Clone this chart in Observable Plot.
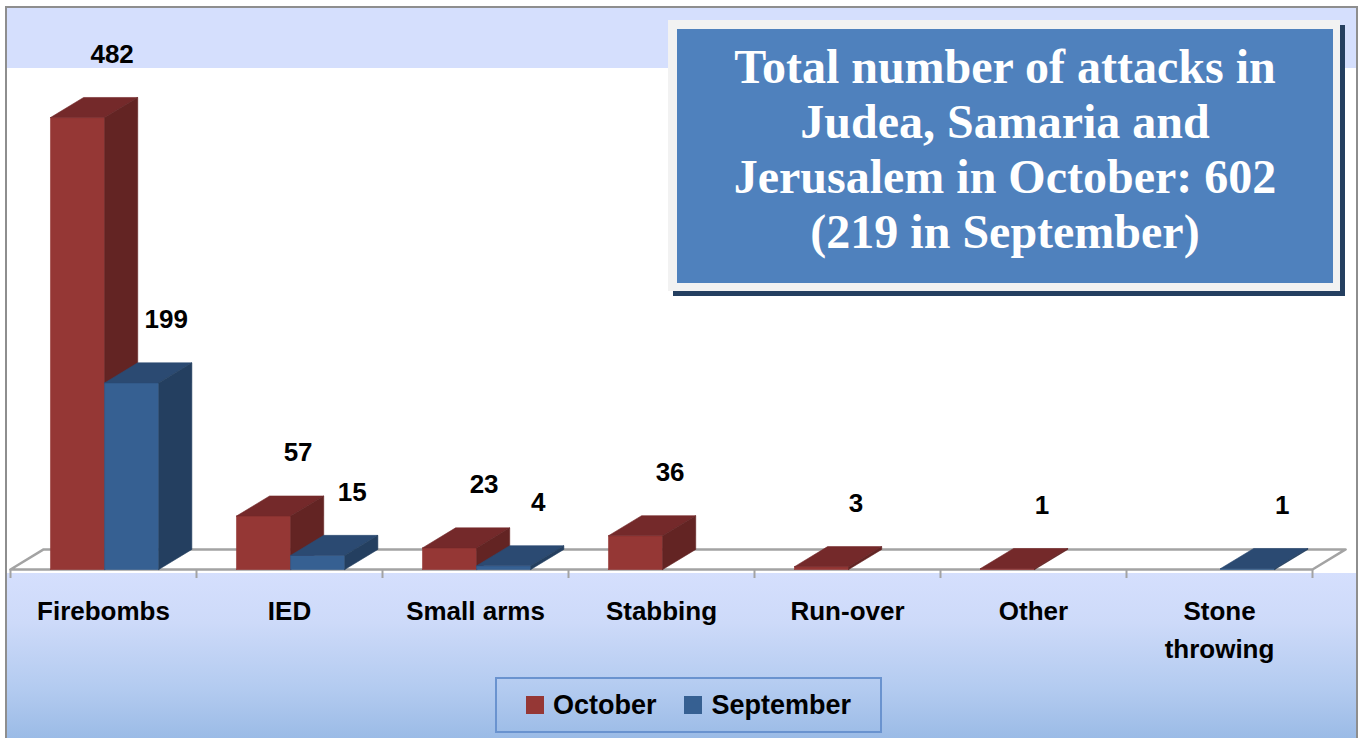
<!DOCTYPE html>
<html>
<head>
<meta charset="utf-8">
<script src="https://cdn.jsdelivr.net/npm/d3@7"></script>
<script src="https://cdn.jsdelivr.net/npm/@observablehq/plot@0.6"></script>
<style>
  html, body { margin: 0; padding: 0; background: #ffffff; }
  #wrap { position: relative; width: 1364px; height: 738px; overflow: hidden; font-family: "Liberation Sans", Arial, sans-serif; }
  #bgTop { position: absolute; left: 6px; top: 7px; width: 1352px; height: 61px; background: #d5dffd; }
  #bgBottom { position: absolute; left: 6px; top: 573px; width: 1352px; height: 165px;
    background: linear-gradient(to bottom, #d5dffd 0%, #cddaf9 30%, #b3cbf0 70%, #9bbbe6 100%); }
  #frame { position: absolute; left: 5px; top: 6px; width: 1353px; height: 740px; border: 2px solid #8e8e8e; box-sizing: border-box; }
  #chart { position: absolute; left: 0; top: 0; }
  #title { position: absolute; left: 668px; top: 20px; width: 672px; height: 271px; background: #f2f2f2;
    box-shadow: 5px 5px 0 #243f60; box-sizing: border-box; padding: 9px 7px 8px 9px; }
  #titleInner { width: 100%; height: 100%; background: #4f81bd; color: #ffffff; text-align: center;
    font-family: "Liberation Serif", "Times New Roman", serif; font-weight: bold; font-size: 48px; line-height: 55px;
    box-sizing: border-box; padding-top: 10px; }
  #legend { position: absolute; left: 495px; top: 677px; width: 387px; height: 56px; box-sizing: border-box;
    border: 2px solid #6a93cf; display: flex; align-items: center; justify-content: center; gap: 28px;
    font-weight: bold; font-size: 27px; color: #000; }
  .item { display: flex; align-items: center; gap: 9px; }
  .sw { width: 18px; height: 18px; display: inline-block; }
</style>
</head>
<body>
<div id="wrap">
  <div id="bgTop"></div>
  <div id="bgBottom"></div>
  <div id="chart"></div>
  <div id="frame"></div>
  <div id="title"><div id="titleInner">Total number of attacks in<br>Judea, Samaria and<br>Jerusalem in October: 602<br>(219 in September)</div></div>
  <div id="legend"></div>
</div>
<script>
// ---- data ----
const categories = ["Firebombs", "IED", "Small arms", "Stabbing", "Run-over", "Other", "Stone\nthrowing"];
const october   = [482, 57, 23, 36, 3, 1, 0];
const september = [199, 15, 4, 0, 0, 0, 1];
const seriesNames = ["October", "September"];

// ---- styling / geometry constants ----
const colors = {
  October:   {front: "#953735", top: "#74292a", side: "#632423"},
  September: {front: "#366092", top: "#2b4a72", side: "#243f60"}
};
const barW = 0.291;               // bar width in category units
const barOff = [0.215, 0.506];    // offset of each series inside its category
const depthX = 0.178;             // 3D depth, x (category units)
const depthY = 21.4;              // 3D depth, y (value units)

// build bar records
const bars = [];
[october, september].forEach((vals, s) => {
  vals.forEach((v, i) => {
    bars.push({series: seriesNames[s], cat: categories[i], v, x0: i + barOff[s], x1: i + barOff[s] + barW});
  });
});
const visible = bars.filter(b => b.v > 0);

function faces(kind) {
  const pts = [];
  visible.forEach((b, k) => {
    let p;
    if (kind === "front") p = [[b.x0, 0], [b.x1, 0], [b.x1, b.v], [b.x0, b.v]];
    else if (kind === "top") p = [[b.x0, b.v], [b.x1, b.v], [b.x1 + depthX, b.v + depthY], [b.x0 + depthX, b.v + depthY]];
    else p = [[b.x1, 0], [b.x1 + depthX, depthY], [b.x1 + depthX, b.v + depthY], [b.x1, b.v]];
    p.push(p[0]);
    p.forEach(([x, y]) => pts.push({id: kind + k, series: b.series, x, y}));
  });
  return pts;
}

const floor = [[0, 0], [7, 0], [7 + depthX, depthY], [depthX, depthY], [0, 0]].map(([x, y]) => ({x, y}));

const faceMarks = [];
for (const s of seriesNames) {
  for (const kind of ["front", "top", "side"]) {
    const data = faces(kind).filter(d => d.series === s);
    faceMarks.push(Plot.line(data, {x: "x", y: "y", z: "id", fill: colors[s][kind], stroke: colors[s][kind], strokeWidth: 0.6}));
  }
}

const labelFont = {fontFamily: "Liberation Sans, Arial, sans-serif", fontWeight: "bold", fontSize: 26, fill: "#000"};

const chart = Plot.plot({
  width: 1364,
  height: 738,
  marginLeft: 10,
  marginRight: 52,
  marginTop: 20,
  marginBottom: 169,
  style: {background: "transparent", overflow: "visible"},
  x: {type: "linear", domain: [0, 7], axis: null},
  y: {domain: [0, 585.5], axis: null},
  marks: [
    Plot.line(floor, {x: "x", y: "y", stroke: "#a3a3a3", strokeWidth: 2.5, fill: "#ffffff"}),
    Plot.axisX({ticks: d3.range(8), tickFormat: () => "", label: null, tickSize: 9, stroke: "#a3a3a3", strokeWidth: 2, anchor: "bottom"}),
    ...faceMarks,
    Plot.text(visible, {
      x: d => (d.x0 + d.x1) / 2 + depthX / 2,
      y: d => d.v + depthY / 2,
      text: d => String(d.v),
      dx: 18, dy: -53,
      ...labelFont
    }),
    Plot.text(categories, {
      x: (d, i) => i + 0.5,
      y: 0,
      text: d => d,
      dy: 24,
      lineAnchor: "top",
      lineHeight: 1.45,
      ...labelFont,
      fontSize: 26
    })
  ]
});
document.getElementById("chart").appendChild(chart);

// legend
const legend = d3.select("#legend");
seriesNames.forEach(s => {
  const it = legend.append("div").attr("class", "item");
  it.append("span").attr("class", "sw").style("background", colors[s].front);
  it.append("span").text(s);
});
</script>
</body>
</html>
